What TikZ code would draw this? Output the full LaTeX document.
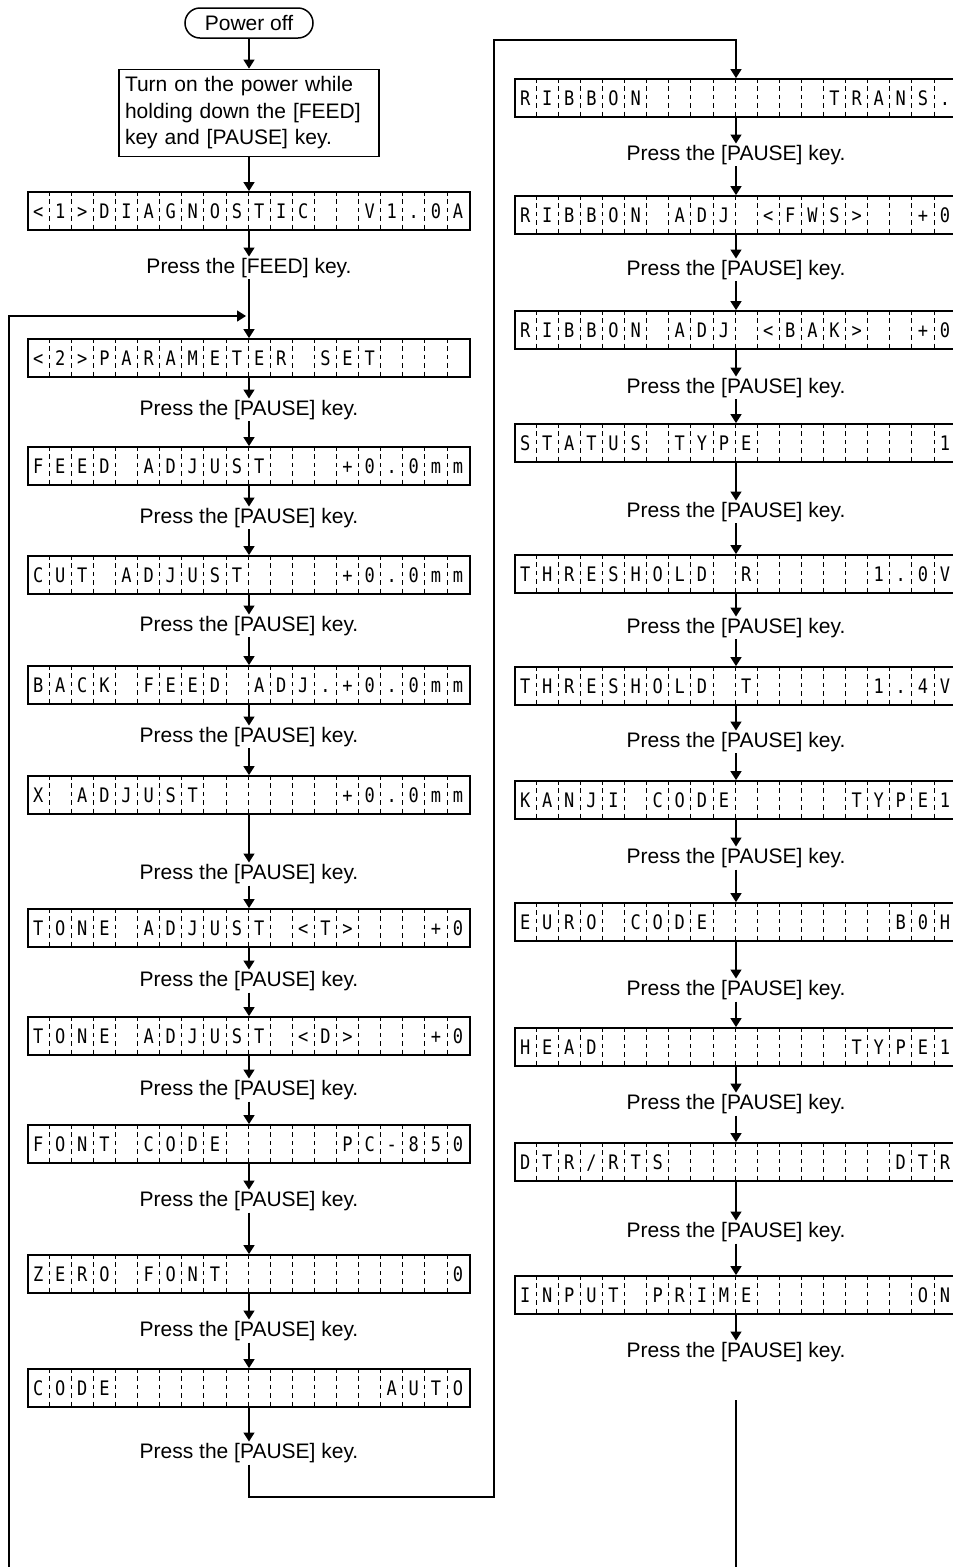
\documentclass[tikz,border=0pt]{standalone}
\usepackage{fontspec}
\setmainfont{Liberation Sans}
\newfontfamily\lcdfont[FakeStretch=0.85]{DejaVu Sans Mono}
\usetikzlibrary{calc, arrows.meta}

% one LCD line: 20 cells, '_' is an empty cell
\newcount\lcdi
\newcommand\lcdrow[3]{%
  \node[lcd] (#1) at #2 {};
  \foreach \k in {1,...,19}
    \draw[sep] ($(#1.north west)+(\k*22.1,0)$) -- ($(#1.south west)+(\k*22.1,0)$);
  \def\lcdname{#1}\lcdi=0 \lcdscan#3\lcdend}
\def\lcdscan#1{%
  \ifx#1\lcdend\else
    \advance\lcdi by 1
    \if#1_\else\node[lcdch] at ($(\lcdname.west)+(\the\lcdi*22.1-11.05,7.3)$) {#1};\fi
    \expandafter\lcdscan
  \fi}

\begin{document}
\begin{tikzpicture}[x=1pt, y=-1pt,
    lcd/.style={rectangle, draw, line width=1.8pt, minimum width=442pt, minimum height=38pt, inner sep=0pt},
    lcdch/.style={inner sep=0pt, anchor=base, font=\lcdfont\fontsize{20}{20}\selectfont},
    sep/.style={line width=0.9pt, dash pattern=on 4.5pt off 3.875pt},
    keytxt/.style={inner sep=1.5pt, font=\fontsize{21}{21}\selectfont},
    termbox/.style={rectangle, rounded corners=15pt, draw, line width=1.5pt, minimum width=128pt, minimum height=30pt, inner sep=0pt, font=\fontsize{21}{21}\selectfont},
    startbox/.style={rectangle, draw, line width=1.8pt, minimum height=87pt, text width=248pt, align=left, inner xsep=6pt, font=\fontsize{21}{26.5}\selectfont},
    arr/.style={-{Triangle[width=11pt,length=9pt]}, line width=1.5pt},
    wire/.style={line width=1.5pt}
  ]
  \useasboundingbox (0,0) rectangle (953,1567);
  \clip (0,0) rectangle (953,1567);

  % left column
  \node[termbox] (pwr) at (249,23) {Power off};
  \node[startbox] (start) at (249,113) {Turn on the power while\\holding down the [FEED]\\key and [PAUSE] key.};
  \lcdrow{d1}{(249,211)}{<1>DIAGNOSTIC__V1.0A}
  \node[keytxt] (k1) at (249,268) {Press the [FEED] key.};
  \lcdrow{d2}{(249,358)}{<2>PARAMETER_SET____}
  \node[keytxt] (k2) at (249,410) {Press the [PAUSE] key.};
  \lcdrow{d3}{(249,466)}{FEED_ADJUST___+0.0mm}
  \node[keytxt] (k3) at (249,518) {Press the [PAUSE] key.};
  \lcdrow{d4}{(249,575)}{CUT_ADJUST____+0.0mm}
  \node[keytxt] (k4) at (249,626) {Press the [PAUSE] key.};
  \lcdrow{d5}{(249,685)}{BACK_FEED_ADJ.+0.0mm}
  \node[keytxt] (k5) at (249,737) {Press the [PAUSE] key.};
  \lcdrow{d6}{(249,795)}{X_ADJUST______+0.0mm}
  \node[keytxt] (k6) at (249,874) {Press the [PAUSE] key.};
  \lcdrow{d7}{(249,928)}{TONE_ADJUST_<T>___+0}
  \node[keytxt] (k7) at (249,981) {Press the [PAUSE] key.};
  \lcdrow{d8}{(249,1036)}{TONE_ADJUST_<D>___+0}
  \node[keytxt] (k8) at (249,1090) {Press the [PAUSE] key.};
  \lcdrow{d9}{(249,1144)}{FONT_CODE_____PC-850}
  \node[keytxt] (k9) at (249,1201) {Press the [PAUSE] key.};
  \lcdrow{d10}{(249,1274)}{ZERO_FONT__________0}
  \node[keytxt] (k10) at (249,1331) {Press the [PAUSE] key.};
  \lcdrow{d11}{(249,1388)}{CODE____________AUTO}
  \node[keytxt] (k11) at (249,1453) {Press the [PAUSE] key.};

  % right column
  \lcdrow{r1}{(736,98)}{RIBBON________TRANS.}
  \node[keytxt] (q1) at (736,155) {Press the [PAUSE] key.};
  \lcdrow{r2}{(736,215)}{RIBBON_ADJ_<FWS>__+0}
  \node[keytxt] (q2) at (736,270) {Press the [PAUSE] key.};
  \lcdrow{r3}{(736,330)}{RIBBON_ADJ_<BAK>__+0}
  \node[keytxt] (q3) at (736,388) {Press the [PAUSE] key.};
  \lcdrow{r4}{(736,443)}{STATUS_TYPE________1}
  \node[keytxt] (q4) at (736,512) {Press the [PAUSE] key.};
  \lcdrow{r5}{(736,574)}{THRESHOLD_R_____1.0V}
  \node[keytxt] (q5) at (736,628) {Press the [PAUSE] key.};
  \lcdrow{r6}{(736,686)}{THRESHOLD_T_____1.4V}
  \node[keytxt] (q6) at (736,742) {Press the [PAUSE] key.};
  \lcdrow{r7}{(736,800)}{KANJI_CODE_____TYPE1}
  \node[keytxt] (q7) at (736,858) {Press the [PAUSE] key.};
  \lcdrow{r8}{(736,922)}{EURO_CODE________B0H}
  \node[keytxt] (q8) at (736,990) {Press the [PAUSE] key.};
  \lcdrow{r9}{(736,1047)}{HEAD___________TYPE1}
  \node[keytxt] (q9) at (736,1104) {Press the [PAUSE] key.};
  \lcdrow{r10}{(736,1162)}{DTR/RTS__________DTR}
  \node[keytxt] (q10) at (736,1232) {Press the [PAUSE] key.};
  \lcdrow{r11}{(736,1295)}{INPUT_PRIME_______ON}
  \node[keytxt] (q11) at (736,1352) {Press the [PAUSE] key.};

  % loose ends
  \coordinate (lb) at (9,1567);
  \coordinate (lj) at (246,316);
  \coordinate (c1) at (494,1497);
  \coordinate (c2) at (736,40);
  \coordinate (ro1) at (736,1400);
  \coordinate (ro2) at (736,1567);

  \draw[arr] (pwr) -- (start);
  \draw[arr] (start) -- (d1);
  \draw[arr] (d1) -- (k1);
  \draw[arr] (k1) -- (d2);
  \draw[arr] (lb) |- (lj);
  \draw[arr] (d2) -- (k2);
  \draw[arr] (k2) -- (d3);
  \draw[arr] (d3) -- (k3);
  \draw[arr] (k3) -- (d4);
  \draw[arr] (d4) -- (k4);
  \draw[arr] (k4) -- (d5);
  \draw[arr] (d5) -- (k5);
  \draw[arr] (k5) -- (d6);
  \draw[arr] (d6) -- (k6);
  \draw[arr] (k6) -- (d7);
  \draw[arr] (d7) -- (k7);
  \draw[arr] (k7) -- (d8);
  \draw[arr] (d8) -- (k8);
  \draw[arr] (k8) -- (d9);
  \draw[arr] (d9) -- (k9);
  \draw[arr] (k9) -- (d10);
  \draw[arr] (d10) -- (k10);
  \draw[arr] (k10) -- (d11);
  \draw[arr] (d11) -- (k11);
  \draw[arr] (k11) |- (c1) -- (c1 |- c2) -- (c2) -- (r1);

  \draw[arr] (r1) -- (q1);
  \draw[arr] (q1) -- (r2);
  \draw[arr] (r2) -- (q2);
  \draw[arr] (q2) -- (r3);
  \draw[arr] (r3) -- (q3);
  \draw[arr] (q3) -- (r4);
  \draw[arr] (r4) -- (q4);
  \draw[arr] (q4) -- (r5);
  \draw[arr] (r5) -- (q5);
  \draw[arr] (q5) -- (r6);
  \draw[arr] (r6) -- (q6);
  \draw[arr] (q6) -- (r7);
  \draw[arr] (r7) -- (q7);
  \draw[arr] (q7) -- (r8);
  \draw[arr] (r8) -- (q8);
  \draw[arr] (q8) -- (r9);
  \draw[arr] (r9) -- (q9);
  \draw[arr] (q9) -- (r10);
  \draw[arr] (r10) -- (q10);
  \draw[arr] (q10) -- (r11);
  \draw[arr] (r11) -- (q11);
  \draw[wire] (ro1) -- (ro2);
\end{tikzpicture}
\end{document}
